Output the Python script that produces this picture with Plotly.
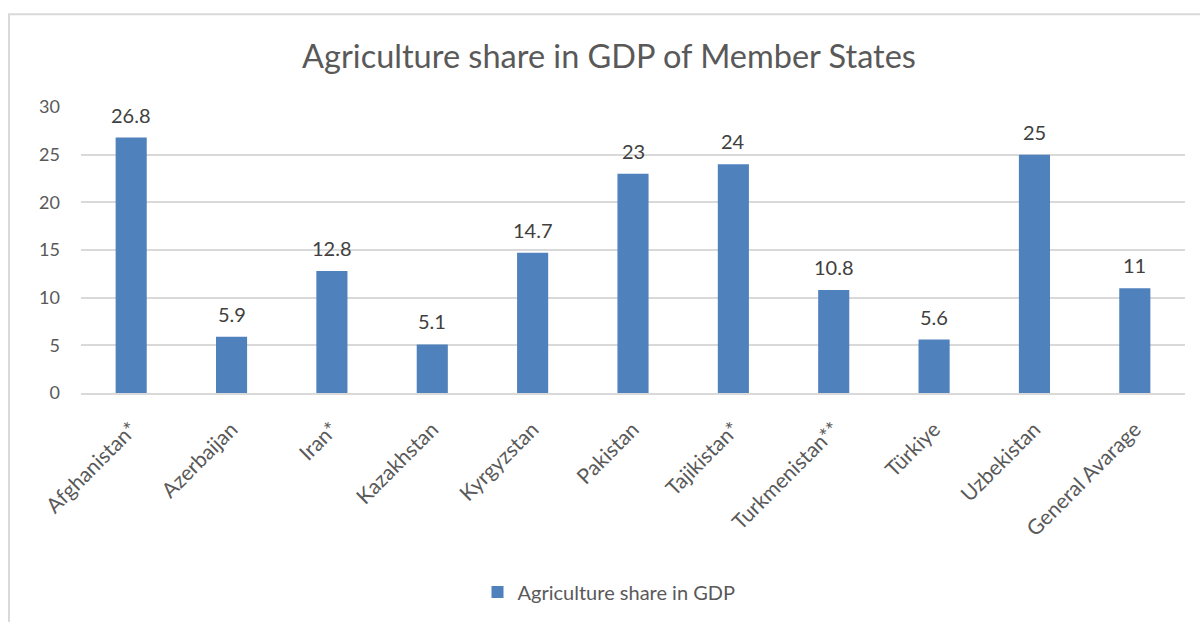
import plotly.graph_objects as go

categories = ["Afghanistan*", "Azerbaijan", "Iran*", "Kazakhstan", "Kyrgyzstan", "Pakistan",
              "Tajikistan*", "Turkmenistan**", "Türkiye", "Uzbekistan", "General Avarage"]
values = [26.8, 5.9, 12.8, 5.1, 14.7, 23, 24, 10.8, 5.6, 25, 11]
series_name = "Agriculture share in GDP"
y_ticks = [0, 5, 10, 15, 20, 25, 30]

FONT = "Lato, 'Open Sans', sans-serif"
W, H = 1200, 622
ml, mr, mt, mb = 81, 15, 107, 228
pw, ph = W - ml - mr, H - mt - mb

def px_x(x):
    return (x - ml) / pw

def px_y(y):
    return (H - mb - y) / ph

fig = go.Figure()
fig.add_trace(go.Bar(
    x=categories, y=values, name=series_name,
    marker=dict(color="#4F81BD", line=dict(width=0)),
    width=0.31,
    cliponaxis=False,
))

for c, v in zip(categories, values):
    fig.add_annotation(x=c, y=v, xref="x", yref="y", text=f"{v:g}", showarrow=False,
                       yanchor="middle", yshift=23,
                       font=dict(size=20, color="#404040", family=FONT))

fig.update_layout(
    width=W, height=H,
    margin=dict(l=ml, r=mr, t=mt, b=mb),
    paper_bgcolor="white", plot_bgcolor="white",
    title=dict(text="Agriculture share in GDP of Member States", x=609 / W, xanchor="center",
               y=1 - 57 / H, yanchor="middle",
               font=dict(size=32.5, color="#595959", family=FONT)),
    showlegend=True,
    legend=dict(orientation="h", x=px_x(609), xanchor="center", y=px_y(592), yanchor="middle",
                font=dict(size=20, color="#595959", family=FONT), itemwidth=30),
    xaxis=dict(tickangle=-45, tickfont=dict(size=21, color="#595959", family=FONT),
               showgrid=False, showline=True, linecolor="#D9D9D9", linewidth=1.5, ticks="",
               ticklabelstandoff=14),
    yaxis=dict(range=[0, 30], tickvals=y_ticks, tickfont=dict(size=18, color="#595959", family=FONT),
               showgrid=True, gridcolor="#D9D9D9", gridwidth=1.5, zeroline=False,
               showline=False, ticks="", ticklabelstandoff=20),
    bargap=0.69,
)

fig.add_shape(type="rect", xref="paper", yref="paper",
              x0=px_x(9), x1=px_x(1210), y0=px_y(640), y1=px_y(14),
              line=dict(color="#D9D9D9", width=2), fillcolor="rgba(0,0,0,0)", layer="below")

fig.write_html("out.html", config={"displayModeBar": False},
               post_script="document.body.style.margin='0';")
